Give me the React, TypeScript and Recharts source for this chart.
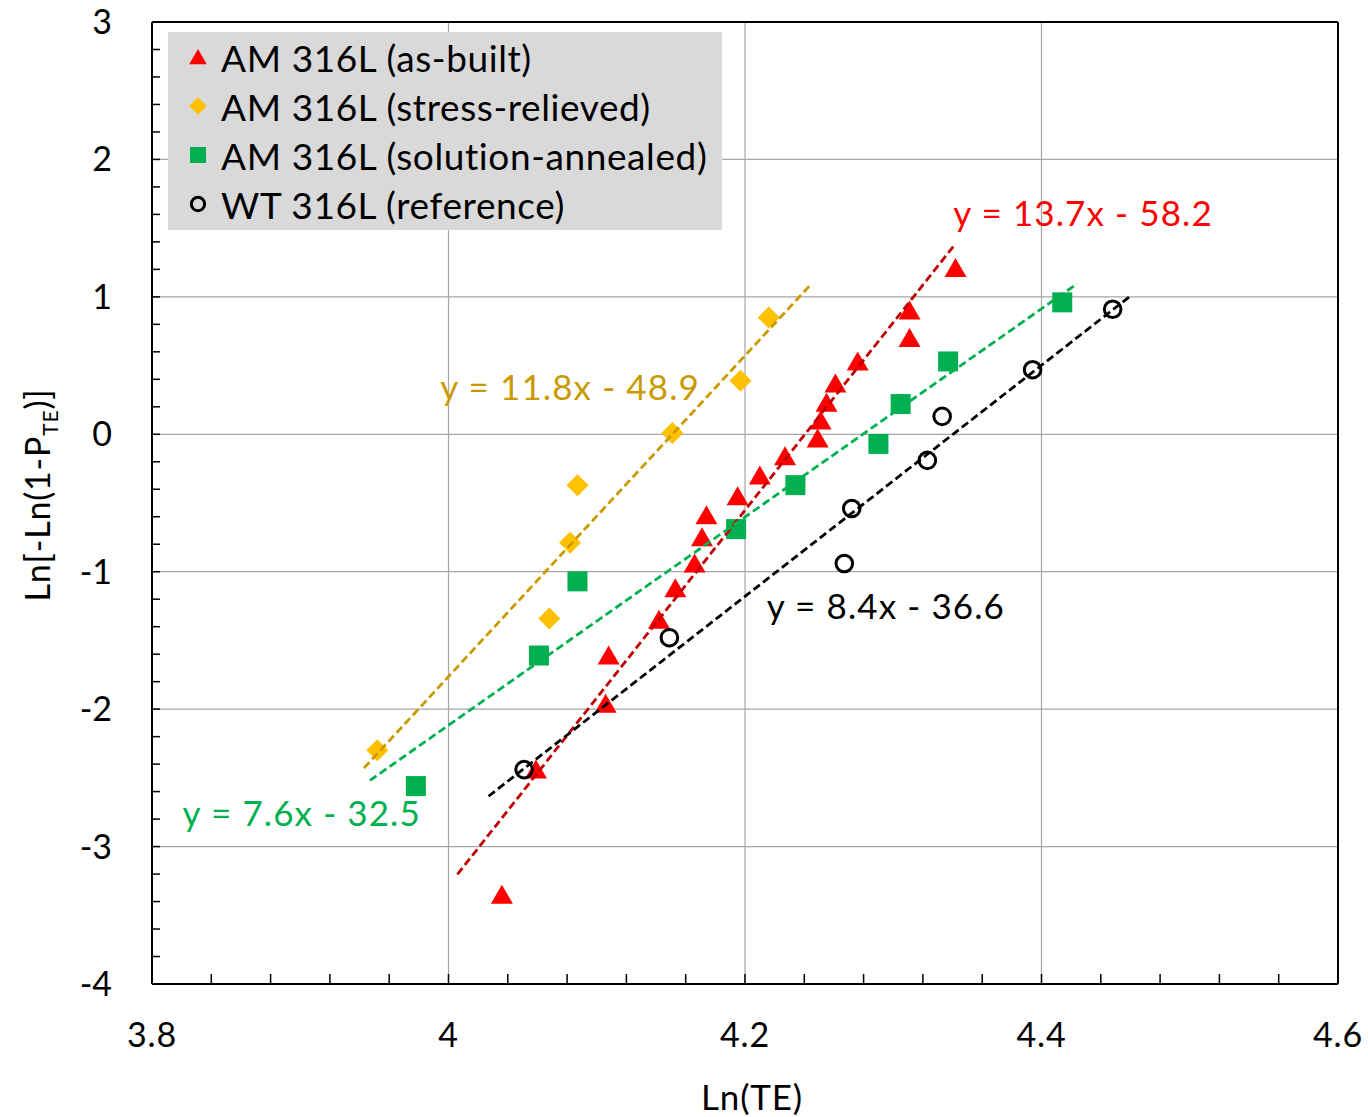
import {
  ScatterChart,
  Scatter,
  XAxis,
  YAxis,
  CartesianGrid,
  ReferenceLine,
  ReferenceDot,
  Legend,
} from "recharts"

const FONT = "Lato, 'Open Sans', sans-serif"

// AM 316L (as-built)
const asBuiltTE = [4.036, 4.059, 4.106, 4.108, 4.142, 4.153, 4.166, 4.171, 4.174, 4.195, 4.21, 4.227, 4.249, 4.251, 4.255, 4.261, 4.276, 4.311, 4.311, 4.342]
const asBuiltP = [-3.35, -2.44, -1.96, -1.61, -1.35, -1.12, -0.94, -0.75, -0.59, -0.45, -0.3, -0.16, -0.03, 0.1, 0.23, 0.37, 0.53, 0.7, 0.9, 1.21]
// AM 316L (stress-relieved)
const stressTE = [3.952, 4.068, 4.082, 4.087, 4.151, 4.197, 4.216]
const stressP = [-2.3, -1.34, -0.79, -0.37, 0.01, 0.39, 0.85]
// AM 316L (solution-annealed)
const solutionTE = [3.978, 4.061, 4.087, 4.194, 4.234, 4.29, 4.305, 4.337, 4.414]
const solutionP = [-2.56, -1.61, -1.07, -0.69, -0.37, -0.07, 0.22, 0.53, 0.96]
// WT 316L (reference)
const wroughtTE = [4.051, 4.149, 4.267, 4.272, 4.323, 4.333, 4.394, 4.448]
const wroughtP = [-2.44, -1.48, -0.94, -0.54, -0.19, 0.13, 0.47, 0.91]

// trendline x extent (with forecast) for each series
const asBuiltTrendRange = [4.006, 4.342]
const stressTrendRange = [3.943, 4.245]
const solutionTrendRange = [3.947, 4.424]
const wroughtTrendRange = [4.027, 4.46]

const seriesNames = [
  "AM 316L (as-built)",
  "AM 316L (stress-relieved)",
  "AM 316L (solution-annealed)",
  "WT 316L (reference)",
]
const equations = ["y = 13.7x - 58.2", "y = 11.8x - 48.9", "y = 7.6x - 32.5", "y = 8.4x - 36.6"]

const xMajorTicks = [3.8, 4, 4.2, 4.4, 4.6]
const yMajorTicks = [-4, -3, -2, -1, 0, 1, 2, 3]
const xGrid = [4, 4.2, 4.4]
const yGrid = [-3, -2, -1, 0, 1, 2]

const xTicks: number[] = []
for (let i = 0; i <= 20; i++) xTicks.push(+(3.8 + i * 0.04).toFixed(2))
const yTicks: number[] = []
for (let i = 0; i <= 35; i++) yTicks.push(+(-4 + i * 0.2).toFixed(1))

const toPoints = (xs: number[], ys: number[]) => xs.map((x, i) => ({ x, y: ys[i] }))

// least squares fit, same as the Excel linear trendline
function trend(xs: number[], ys: number[], range: number[]) {
  const n = xs.length
  const mx = xs.reduce((a, b) => a + b, 0) / n
  const my = ys.reduce((a, b) => a + b, 0) / n
  let sxy = 0
  let sxx = 0
  xs.forEach((x, i) => {
    sxy += (x - mx) * (ys[i] - my)
    sxx += (x - mx) * (x - mx)
  })
  const slope = sxy / sxx
  const icpt = my - slope * mx
  return range.map((x) => ({ x, y: slope * x + icpt }))
}

const isMajor = (list: number[], v: number) => list.some((m) => Math.abs(m - v) < 1e-6)

function XTick({ x, y, payload }: any) {
  const v = payload.value
  return (
    <g>
      <line x1={x} x2={x} y1={y} y2={y - 10} stroke="#000" strokeWidth={1.5} />
      {isMajor(xMajorTicks, v) && (
        <text x={x} y={y + 63} textAnchor="middle" fontSize={34} fontFamily={FONT} fill="#000" letterSpacing={0.8}>
          {String(+v.toFixed(1))}
        </text>
      )}
    </g>
  )
}

function YTick({ x, y, payload }: any) {
  const v = payload.value
  return (
    <g>
      <line x1={x} x2={x + 8} y1={y} y2={y} stroke="#000" strokeWidth={1.5} />
      {isMajor(yMajorTicks, v) && (
        <text x={x - 40} y={y + 12} textAnchor="end" fontSize={34} fontFamily={FONT} fill="#000">
          {String(Math.round(v))}
        </text>
      )}
    </g>
  )
}

const Triangle = ({ cx, cy, s = 1 }: any) => (
  <polygon
    points={`${cx},${cy - 10 * s} ${cx + 11 * s},${cy + 9 * s} ${cx - 11 * s},${cy + 9 * s}`}
    fill="#FF0000"
  />
)
const Diamond = ({ cx, cy, s = 1 }: any) => (
  <polygon
    points={`${cx},${cy - 11 * s} ${cx + 11 * s},${cy} ${cx},${cy + 11 * s} ${cx - 11 * s},${cy}`}
    fill="#FFC000"
  />
)
const Square = ({ cx, cy, s = 1 }: any) => (
  <rect x={cx - 10 * s} y={cy - 10 * s} width={20 * s} height={20 * s} fill="#00B050" />
)
const Ring = ({ cx, cy, s = 1 }: any) => (
  <circle cx={cx} cy={cy} r={8.3 * s} fill="none" stroke="#000" strokeWidth={3} />
)
const NoDot = () => <g />

const markers = [Triangle, Diamond, Square, Ring]

function LegendBox() {
  return (
    <div
      style={{
        width: 554,
        height: 198,
        background: "#D9D9D9",
        position: "relative",
        fontFamily: FONT,
        fontSize: 37,
        letterSpacing: 0.6,
        color: "#000",
      }}
    >
      {seriesNames.map((name, i) => {
        const M = markers[i]
        return (
          <div
            key={name}
            style={{
              position: "absolute",
              left: 18,
              top: 5 + i * 49,
              height: 40,
              display: "flex",
              alignItems: "center",
              whiteSpace: "nowrap",
            }}
          >
            <svg width={24} height={24}>
              <M cx={12} cy={12} s={0.8} />
            </svg>
            <span style={{ marginLeft: 11 }}>{name}</span>
          </div>
        )
      })}
    </div>
  )
}

const YTitle = () => (
  <text transform="translate(50, 495) rotate(-90)" textAnchor="middle" fontSize={34} fontFamily={FONT} fill="#000" letterSpacing={0.8}>
    Ln[-Ln(1-P
    <tspan fontSize={21} dy={8}>TE</tspan>
    <tspan dy={-8}>)]</tspan>
  </text>
)

const XTitle = () => (
  <text x={752} y={1110} textAnchor="middle" fontSize={35} fontFamily={FONT} fill="#000" letterSpacing={0.8}>
    Ln(TE)
  </text>
)

const dash = { strokeWidth: 2.8, strokeDasharray: "8 4" }
const eqLabel = { position: "center" as const, fontSize: 35, fontFamily: FONT, letterSpacing: 1.1 }

export default function App() {
  return (
    <div style={{ position: "absolute", left: 0, top: 0, background: "#fff" }}>
      <ScatterChart width={1368} height={1117} margin={{ top: 22, right: 30, bottom: 0, left: 0 }}>
        <CartesianGrid
          horizontalValues={yGrid}
          verticalValues={xGrid}
          stroke="#A6A6A6"
          strokeWidth={1.2}
        />
        <XAxis
          type="number"
          dataKey="x"
          domain={[3.8, 4.6]}
          ticks={xTicks}
          interval={0}
          height={133}
          tickSize={0}
          tickMargin={0}
          tickLine={false}
          tick={<XTick />}
          axisLine={{ stroke: "#000", strokeWidth: 2 }}
          allowDataOverflow
          label={<XTitle />}
        />
        <YAxis
          type="number"
          dataKey="y"
          domain={[-4, 3]}
          ticks={yTicks}
          interval={0}
          width={152}
          tickSize={0}
          tickMargin={0}
          tickLine={false}
          tick={<YTick />}
          axisLine={{ stroke: "#000", strokeWidth: 2 }}
          allowDataOverflow
          label={<YTitle />}
        />
        <ReferenceLine y={3} stroke="#000" strokeWidth={2} />
        <ReferenceLine x={4.6} stroke="#000" strokeWidth={2} />

        <Scatter name={seriesNames[0]} data={toPoints(asBuiltTE, asBuiltP)} shape={<Triangle />} isAnimationActive={false} />
        <Scatter name={seriesNames[1]} data={toPoints(stressTE, stressP)} shape={<Diamond />} isAnimationActive={false} />
        <Scatter name={seriesNames[2]} data={toPoints(solutionTE, solutionP)} shape={<Square />} isAnimationActive={false} />
        <Scatter name={seriesNames[3]} data={toPoints(wroughtTE, wroughtP)} shape={<Ring />} isAnimationActive={false} />

        <Scatter
          data={trend(asBuiltTE, asBuiltP, asBuiltTrendRange)}
          line={{ stroke: "#C00000", ...dash }}
          shape={<NoDot />}
          legendType="none"
          isAnimationActive={false}
        />
        <Scatter
          data={trend(stressTE, stressP, stressTrendRange)}
          line={{ stroke: "#C99A00", ...dash }}
          shape={<NoDot />}
          legendType="none"
          isAnimationActive={false}
        />
        <Scatter
          data={trend(solutionTE, solutionP, solutionTrendRange)}
          line={{ stroke: "#00B050", ...dash }}
          shape={<NoDot />}
          legendType="none"
          isAnimationActive={false}
        />
        <Scatter
          data={trend(wroughtTE, wroughtP, wroughtTrendRange)}
          line={{ stroke: "#000", ...dash }}
          shape={<NoDot />}
          legendType="none"
          isAnimationActive={false}
        />

        <ReferenceDot x={4.428} y={1.603} r={0} fill="none" stroke="none"
          label={{ value: equations[0], fill: "#FF0000", ...eqLabel }} />
        <ReferenceDot x={4.082} y={0.337} r={0} fill="none" stroke="none"
          label={{ value: equations[1], fill: "#C99A00", ...eqLabel }} />
        <ReferenceDot x={3.901} y={-2.763} r={0} fill="none" stroke="none"
          label={{ value: equations[2], fill: "#00B050", ...eqLabel }} />
        <ReferenceDot x={4.295} y={-1.257} r={0} fill="none" stroke="none"
          label={{ value: equations[3], fill: "#000", ...eqLabel }} />

        <Legend
          verticalAlign="middle"
          layout="horizontal"
          content={() => <LegendBox />}
          wrapperStyle={{ left: 168, top: 32, width: 554, height: 198 }}
        />
      </ScatterChart>
    </div>
  )
}
